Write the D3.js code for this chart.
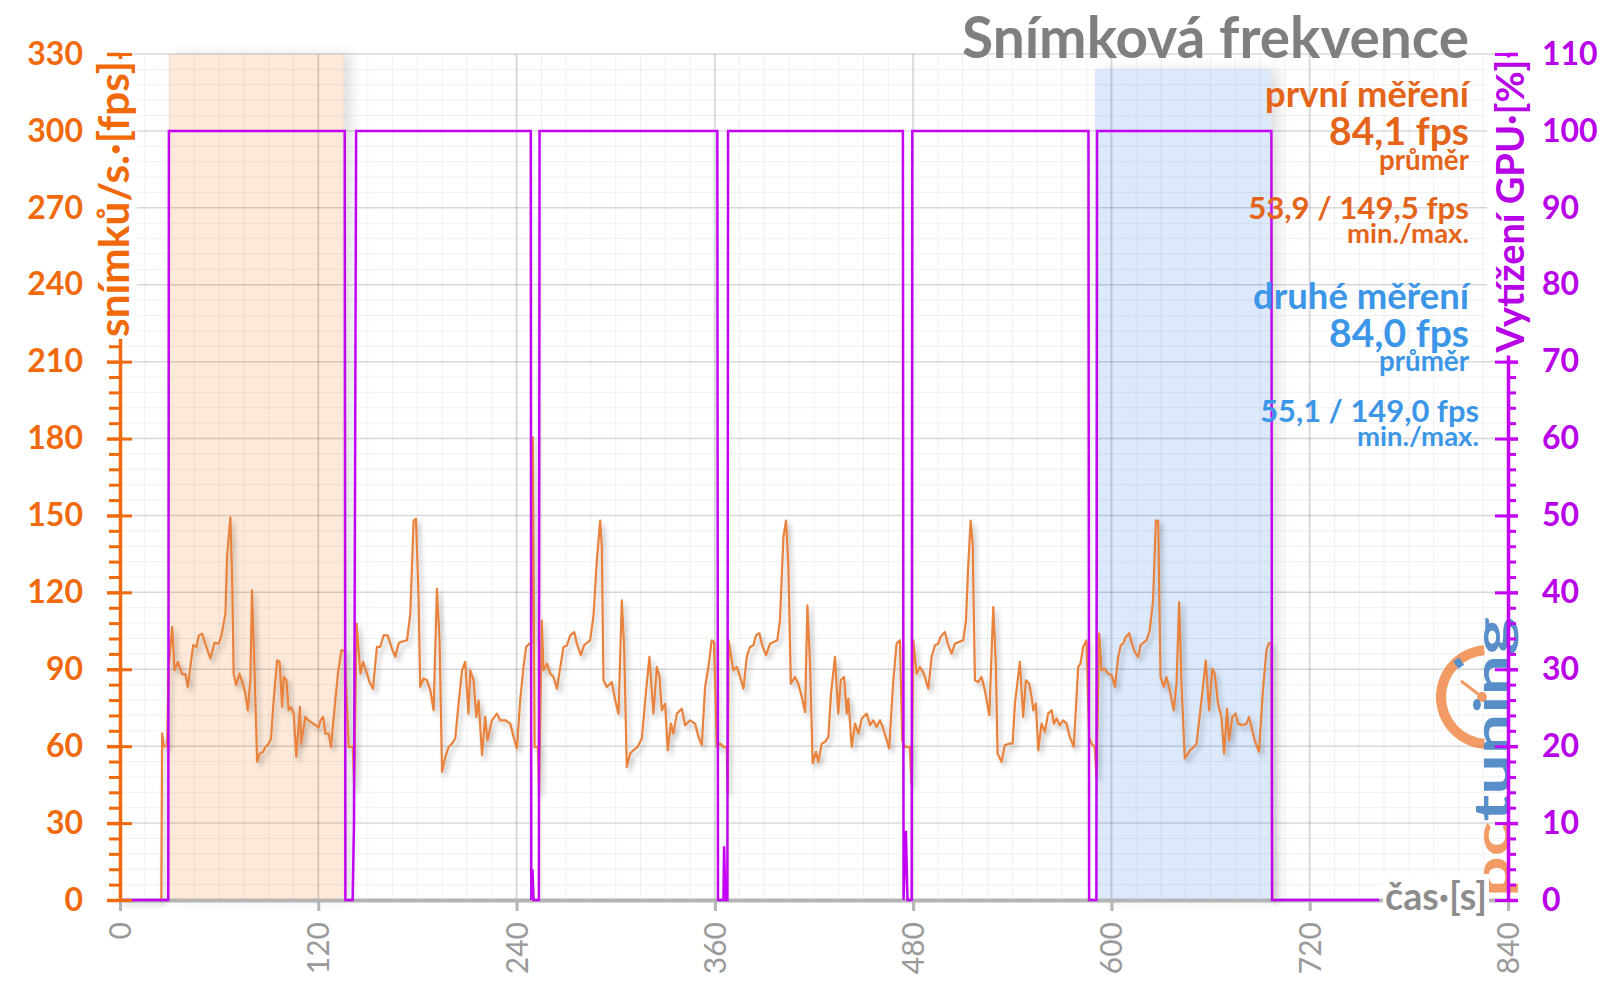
<!DOCTYPE html>
<html><head><meta charset="utf-8">
<script src="https://cdn.jsdelivr.net/npm/d3@7"></script>
<style>
html,body{margin:0;padding:0;background:#fff;}
svg{display:block;font-family:Lato,'Open Sans',sans-serif;}
</style></head><body>
<svg id="chart" width="1600" height="998"></svg>
<script>
// ---------- DATA ----------
const xTicks = [0,120,240,360,480,600,720,840];
const yLeftTicks = [0,30,60,90,120,150,180,210,240,270,300,330];
const yRightTicks = [0,10,20,30,40,50,60,70,80,90,100,110];

const titleText = "Snímková frekvence";
const leftAxisTitle = "snímků/s.·[fps]";
const rightAxisTitle = "Vytížení GPU·[%]";
const xAxisTitle = "čas·[s]";
const notesFirst = ["první měření","84,1 fps","průměr","53,9 / 149,5 fps","min./max."];
const notesSecond = ["druhé měření","84,0 fps","průměr","55,1 / 149,0 fps","min./max."];

// highlighted measurement windows [start s, end s, top fps]
const bandFirst = [29.5,135.3,330];
const bandSecond = [590.0,696.3,324];

// frame rate [time s, fps]
const fpsLeadIn = [[0,0],[25,0],[25.5,65],[26.5,60],[28.5,60]];
const fpsRun1 = [[29.5,91],[31.6,106.5],[33,89.6],[35,92.9],[37.6,88.1],[39.6,88.1],[41,83.1],[44.3,99.4],[46.3,98.7],[47.7,103.2],[49.7,103.9],[52.3,98.7],[54.7,94.2],[57.2,100.3],[59.8,100],[61.4,103.2],[63.8,111.7],[64.8,133.8],[66.8,149.3],[67.9,124.7],[68.8,88.3],[70.3,83.8],[72.3,88.3],[74.3,84.4],[75.9,80.5],[77.3,74],[78.9,85.7],[79.9,120.8],[81.3,92.2],[83,53.9],[84.6,57.1],[86.6,57.8],[88,59.7],[90,61],[91.4,63],[93,77.9],[95.1,93.5],[96.6,92.9],[98.1,75.3],[99.1,87],[100.7,85.7],[102.1,74],[103.5,75.3],[105.1,72.7],[106.7,55.8],[108.9,75.3],[109.6,61],[112.2,71.4],[114.2,70],[117.2,68.7],[120.2,67.3],[121.3,70],[122.9,71.4],[124.3,64.9],[126.3,64.9],[127.7,59.7],[130.3,77.9],[132,88.9],[134,97.4],[136,97.4],[138.4,59.7],[141,59.7],[141.7,44]];
const fpsRun2 = [[143.2,107.8],[145.5,88.3],[147.1,92.9],[149.5,88.3],[151,85],[153.1,82.4],[155.5,98.7],[157.5,98.7],[159.5,103.2],[162,103.2],[164.6,98],[166.6,94.9],[168.6,100],[169.6,100.6],[173.7,101.3],[175.7,111.7],[177.7,148],[179.1,148.7],[180.7,118.2],[181.7,83.1],[183.7,86.4],[185.8,85.7],[187.8,81.8],[189.8,74],[191.8,121.4],[193.4,101.3],[194.9,50],[196.9,55.8],[198.9,59.7],[200.9,61],[202.9,63],[204.9,76.6],[207,89.6],[208.9,92.9],[210.9,72.7],[212,89.6],[214,85.7],[215.6,71.4],[217,77.9],[219.1,56.5],[221,71.4],[222.4,62.3],[225.1,70.1],[228.1,72.7],[230.1,70.1],[233.1,70.1],[236.2,68.8],[238.2,63.6],[240.2,59.1],[242.2,77.9],[244.2,90.9],[245.8,98.7],[247.8,100],[248.9,100],[249.9,180.5],[250.9,59.7],[252.9,59.7],[253.6,42]];
const fpsRun3 = [[255.3,109],[256.3,89.6],[258.4,92.2],[260.4,88.3],[262.4,87],[264.4,82.4],[268.4,98.7],[270.5,99.3],[272.5,103.2],[274.9,104.5],[276.5,100],[278.9,95.5],[280.9,99.4],[284.5,101.3],[286.5,110.4],[288.6,132.5],[290.6,148],[291.6,137.7],[292.6,85.7],[294.6,83.1],[297.7,85],[299.7,77.9],[301.7,72.7],[303.7,116.9],[305.1,98.7],[306.7,51.9],[308.7,57.1],[310.7,58.4],[313.2,59.7],[315.8,63],[318.4,81.8],[320.4,94.8],[322.8,72.7],[324.9,90.9],[326.5,87],[327.9,74],[329.9,76.6],[331.5,58.4],[333.4,68.8],[334.9,64.9],[337,72.7],[340,74.6],[342,68.2],[345,70.1],[348,68.8],[350.1,63.6],[352.1,60.4],[354.1,83.1],[356.1,90.9],[358.1,101.3],[359.5,100.6],[361.2,59.7],[363.2,61],[365.2,59.7],[367.2,59.7],[367.8,42]];
const fpsRun4 = [[368.4,101.3],[370.2,93.5],[371.2,89.6],[373.3,90.9],[375.3,87],[377.3,82.4],[379.3,94.8],[381.3,98.7],[383.3,99.4],[384.9,103.2],[386.9,104.1],[389,98.7],[391,95.5],[393.4,100],[397.8,101.3],[399.4,109.1],[401.5,141.6],[403.1,148],[404.5,129.9],[406,84.4],[408.5,87],[410.5,84.4],[412.6,79.2],[414.6,73.3],[416,114.9],[417.6,92.2],[419.2,53.3],[421.2,57.8],[422.6,53.9],[424.7,61],[426.7,61.7],[428.7,63.6],[430.3,80.5],[432.7,94.8],[434.7,72.7],[436.2,85.7],[438.2,87],[439.8,72.7],[440.8,78.6],[442.8,59.7],[444.9,68.8],[446.9,64.9],[448.9,70.8],[451.9,72.7],[453.9,68.2],[455.9,70.1],[457.9,67.5],[459.9,70.1],[461.6,67.5],[465.5,59.1],[468,85.7],[470,100],[472,101.3],[473.4,62.3],[475,59.7],[478,59.7],[479,45]];
const fpsRun5 = [[480.1,101.3],[482.1,88.3],[484.1,90.9],[486.5,88.3],[489.2,82.4],[491.2,94.8],[493.2,99.4],[495.2,100],[496.6,102.6],[499.2,104.5],[501.2,99.4],[503.3,96.1],[505.3,100],[510.3,101.3],[512,109.1],[513.3,129.9],[514.8,148],[516,139],[517.4,85.7],[519.4,85],[521.4,87],[523.4,81.8],[526.1,72.1],[528.5,114.3],[530.1,90.9],[531.1,57.1],[533.5,53.9],[535.5,60.4],[538.6,61],[540.2,61],[541.6,76.6],[544.6,92.9],[546.6,71.4],[548.2,85.7],[550.2,84.4],[551.7,79.2],[552.7,74],[554.3,76.6],[555.7,58.4],[557.7,68.8],[559.7,65.6],[561.7,72.7],[563.8,74],[565.2,68.8],[566.8,70.8],[568.8,68.2],[570.8,70.1],[572.8,68.8],[574.8,63.6],[577.2,59.7],[579.9,90.9],[581.3,92.2],[582.9,98.7],[584.9,101.3],[586.5,63.6],[587.9,61],[589.9,59.7],[591,48]];
const fpsRun6 = [[592.6,103.9],[594,89.6],[596,90.2],[598,88.3],[600.1,87.7],[602.1,83.1],[604.1,94.8],[605.7,99.4],[607.1,100],[608.7,102.6],[610.7,104.1],[612.2,100.6],[614.1,96.7],[616.2,94.8],[617.6,99.4],[621.2,101.3],[623.2,105.2],[625.2,116.9],[626.9,148],[628.3,148],[629.7,87],[631.7,83.1],[633.3,87],[635.3,81.8],[637.7,74],[639.4,84.4],[641,116.2],[642.4,84.4],[644.4,55.2],[645.8,56.5],[647.5,58.4],[649.9,59.7],[651.5,61],[654.5,77.9],[657.1,93.5],[659.1,74],[661.1,90.2],[662.5,88.3],[664.5,76.6],[666.6,71.4],[668.2,57.1],[670,74.6],[671.2,62.3],[673.2,71.4],[675.2,72.7],[676.6,68.8],[679.3,68.2],[681.7,68.8],[683.3,71.4],[684.7,67.5],[686.7,62.3],[689.3,57.8],[691.7,81.8],[693.8,97.4],[695.3,100.2],[696.8,100],[697.3,0]];

// GPU load [time s, %]
const gpuUsage = [[0,0],[29.2,0],[29.6,100],[136,100],[136.4,0],[140.8,0],[141.6,10],[142.9,100],[248.6,100],[248.9,0],[249.6,4],[250.3,0],[253.5,0],[253.9,100],[361.5,100],[361.9,0],[365.2,0],[365.6,7],[366.4,0],[367.6,0],[368,100],[473.8,100],[474.2,0],[475.6,9],[476.6,0],[479.1,0],[479.5,100],[586.1,100],[586.5,0],[590.9,0],[591.3,100],[696.8,100],[697.2,0],[762,0]];

// ---------- CHART ----------
const svg = d3.select("#chart");
const ORANGE = "#f06a0c", PURPLE = "#c400f5", LINE = "#e8823c", GRAY = "#b4b4b4";
const x = d3.scaleLinear().domain([0,840]).range([120,1508]);
const yL = d3.scaleLinear().domain([0,330]).range([900,54]);
const yR = d3.scaleLinear().domain([0,110]).range([900,54]);

const defs = svg.append("defs");
const fsh = defs.append("filter").attr("id","lineShadow").attr("x","-2%").attr("y","-5%").attr("width","104%").attr("height","115%");
fsh.append("feDropShadow").attr("dx",3).attr("dy",4).attr("stdDeviation",2.5).attr("flood-color","#000").attr("flood-opacity",0.25);
const bsh = defs.append("filter").attr("id","bandShadow").attr("x","-10%").attr("y","-5%").attr("width","125%").attr("height","110%");
bsh.append("feDropShadow").attr("dx",8).attr("dy",0).attr("stdDeviation",6).attr("flood-color","#000").attr("flood-opacity",0.12);

// bands
[[bandFirst,"#fde9d9"],[bandSecond,"#dbe9fb"]].forEach(([b,c])=>{
  svg.append("rect").attr("x",x(b[0])).attr("y",yL(b[2]))
    .attr("width",x(b[1])-x(b[0])).attr("height",yL(0)-yL(b[2]))
    .attr("fill",c).attr("filter","url(#bandShadow)");
});

// grid
const grid = svg.append("g");
d3.range(0,331,6).filter(v=>v%30!==0).forEach(v=>{
  grid.append("line").attr("x1",x(0)).attr("x2",x(840)).attr("y1",yL(v)).attr("y2",yL(v)).attr("stroke","#000").attr("stroke-opacity",0.06).attr("stroke-width",1);
});
d3.range(0,841,15).filter(v=>v%120!==0).forEach(v=>{
  grid.append("line").attr("x1",x(v)).attr("x2",x(v)).attr("y1",yL(0)).attr("y2",yL(330)).attr("stroke","#000").attr("stroke-opacity",0.06).attr("stroke-width",1);
});
yLeftTicks.forEach(v=>{
  grid.append("line").attr("x1",x(0)).attr("x2",x(840)).attr("y1",yL(v)).attr("y2",yL(v)).attr("stroke","#000").attr("stroke-opacity",0.15).attr("stroke-width",1.5);
});
xTicks.forEach(v=>{
  grid.append("line").attr("x1",x(v)).attr("x2",x(v)).attr("y1",yL(0)).attr("y2",yL(330)).attr("stroke","#000").attr("stroke-opacity",0.14).attr("stroke-width",2);
});

// x axis
const xAx = svg.append("g").attr("transform",`translate(0,${yL(0)})`)
  .call(d3.axisBottom(x).tickValues(xTicks).tickSize(11).tickSizeOuter(0));
xAx.select(".domain").attr("stroke",GRAY).attr("stroke-width",4);
xAx.selectAll(".tick line").attr("stroke",GRAY).attr("stroke-width",3);
xAx.selectAll(".tick text").attr("transform","rotate(-90)").attr("x",-22).attr("y",0).attr("dy","0.35em")
  .attr("text-anchor","end").attr("fill","#9a9a9a").attr("font-size",30).attr("font-family","Lato");

// watermark
const wm = svg.append("g").attr("opacity",0.85);
wm.append("path").attr("transform","translate(1488,697)")
  .attr("d",d3.arc().innerRadius(42).outerRadius(52).startAngle(Math.PI+0.08).endAngle(2*Math.PI-0.08)())
  .attr("fill","#f08a4a");
wm.append("line").attr("x1",1482).attr("y1",697).attr("x2",1461).attr("y2",681).attr("stroke","#f08a4a").attr("stroke-width",3);
wm.append("circle").attr("cx",1482).attr("cy",697).attr("r",5).attr("fill","#f08a4a");
wm.append("rect").attr("x",1455).attr("y",659).attr("width",7).attr("height",9).attr("fill","#3d7cc0").attr("transform","rotate(-35,1458,663)");
const wmt = wm.append("text").attr("transform","translate(1510,897) rotate(-90)")
  .attr("font-size",50).attr("font-weight",700).attr("textLength",280).attr("lengthAdjust","spacingAndGlyphs");
wmt.append("tspan").attr("fill","#f08a4a").text("pc");
wmt.append("tspan").attr("fill","#3d7cc0").text("tuning");

// lines
svg.append("path").datum([].concat(fpsLeadIn,fpsRun1,fpsRun2,fpsRun3,fpsRun4,fpsRun5,fpsRun6))
  .attr("d",d3.line().x(d=>x(d[0])).y(d=>yL(d[1])))
  .attr("fill","none").attr("stroke",LINE).attr("stroke-width",2.2).attr("stroke-linejoin","round")
  .attr("filter","url(#lineShadow)");
svg.append("path").datum(gpuUsage)
  .attr("d",d3.line().x(d=>x(d[0])).y(d=>yR(d[1])))
  .attr("fill","none").attr("stroke",PURPLE).attr("stroke-width",2.5);

// left axis
function styleAxis(g,color,w){ g.select(".domain").attr("stroke",color).attr("stroke-width",w); g.selectAll(".tick line").attr("stroke",color).attr("stroke-width",w); }
const minorL = d3.range(0,331,6).filter(v=>v%30!==0);
const lMin = svg.append("g").attr("transform",`translate(${x(0)},0)`).call(d3.axisLeft(yL).tickValues(minorL).tickSize(11).tickFormat(""));
lMin.select(".domain").remove(); styleAxis(lMin,ORANGE,3);
const lIn = svg.append("g").attr("transform",`translate(${x(0)},0)`).call(d3.axisLeft(yL).tickValues(yLeftTicks).tickSize(-12).tickFormat(""));
lIn.select(".domain").remove(); styleAxis(lIn,ORANGE,3);
const lAx = svg.append("g").attr("transform",`translate(${x(0)},0)`).call(d3.axisLeft(yL).tickValues(yLeftTicks).tickSizeInner(13).tickSizeOuter(0).tickPadding(24));
styleAxis(lAx,ORANGE,3.5);
lAx.selectAll(".tick text").attr("fill",ORANGE).attr("font-size",32).attr("font-weight",700).attr("font-family","Lato");

// right axis
const minorR = d3.range(0,111,2).filter(v=>v%10!==0);
const rMin = svg.append("g").attr("transform",`translate(${x(840)},0)`).call(d3.axisRight(yR).tickValues(minorR).tickSize(8).tickFormat(""));
rMin.select(".domain").remove(); styleAxis(rMin,PURPLE,3);
const rIn = svg.append("g").attr("transform",`translate(${x(840)},0)`).call(d3.axisRight(yR).tickValues(yRightTicks).tickSize(-13).tickFormat(""));
rIn.select(".domain").remove(); styleAxis(rIn,PURPLE,3);
const rAx = svg.append("g").attr("transform",`translate(${x(840)},0)`).call(d3.axisRight(yR).tickValues(yRightTicks).tickSizeInner(10).tickSizeOuter(0).tickPadding(24));
styleAxis(rAx,PURPLE,3.5);
rAx.selectAll(".tick text").attr("fill","#b800e8").attr("font-size",32).attr("font-weight",700).attr("font-family","Lato");

// helpers
function fit(t,target){ const w=t.node().getComputedTextLength(); const fs=parseFloat(t.attr("font-size")); t.attr("font-size",fs*target/w); }
function bg(g,t,pad){ const b=t.node().getBBox(); g.insert("rect","text").attr("x",b.x-pad).attr("y",b.y-pad+3).attr("width",b.width+2*pad).attr("height",b.height+2*pad-6).attr("fill","#fff"); }

// axis titles
const lt = svg.append("g").attr("transform","translate(129,199) rotate(-90)");
const ltt = lt.append("text").attr("text-anchor","middle").attr("font-size",40).attr("font-weight",700).attr("fill",ORANGE).text(leftAxisTitle);
fit(ltt,276); bg(lt,ltt,2);
const rt = svg.append("g").attr("transform","translate(1524,206) rotate(-90)");
const rtt = rt.append("text").attr("text-anchor","middle").attr("font-size",40).attr("font-weight",700).attr("fill","#b800e8").text(rightAxisTitle);
fit(rtt,293); bg(rt,rtt,2);
const xt = svg.append("g");
const xtt = xt.append("text").attr("x",1385).attr("y",910).attr("font-size",40).attr("font-weight",700).attr("fill","#8c8c8c").text(xAxisTitle);
fit(xtt,102); bg(xt,xtt,2);

// title
const tt = svg.append("text").attr("x",1469).attr("y",58).attr("text-anchor","end").attr("font-size",54).attr("font-weight",700).attr("fill","#7f7f7f").text(titleText);
fit(tt,507);

// annotations
const firstLayout = {base:[107,145,170,219,243], width:[204,140,90,221,122], size:[30,38,24,29,24], right:[1469,1469,1469,1469,1469]};
const secondLayout = {base:[309,347,371,422,446], width:[216,140,90,219,122], size:[30,38,24,29,24], right:[1469,1469,1469,1479,1479]};
[[notesFirst,firstLayout,"#e4641a"],[notesSecond,secondLayout,"#3c96e8"]].forEach(([notes,L,c])=>{
  notes.forEach((s,i)=>{
    const t = svg.append("text").attr("x",L.right[i]).attr("y",L.base[i]).attr("text-anchor","end")
      .attr("font-size",L.size[i]).attr("font-weight",700).attr("fill",c).text(s);
    fit(t,L.width[i]);
  });
});
</script>
</body></html>
